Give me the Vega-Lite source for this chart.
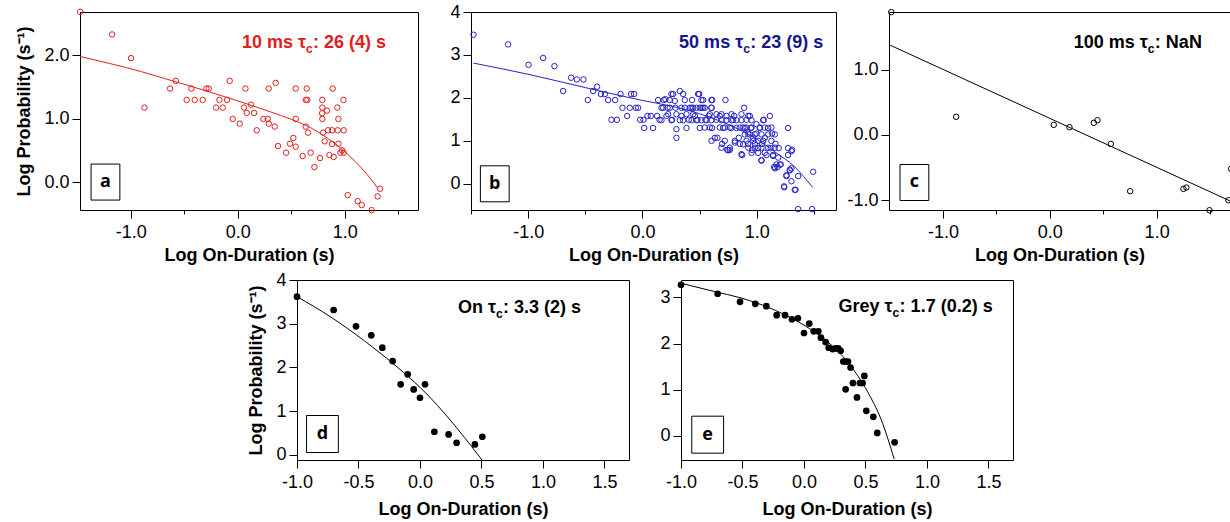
{
"$schema": "https://vega.github.io/schema/vega-lite/v6.json",
"background": "white",
"padding": {"left": 15, "top": 2, "right": 0, "bottom": 0},
"config": {
 "font": "Liberation Sans",
 "view": {"stroke": "#000", "strokeWidth": 1},
 "axis": {"domain": false, "grid": false, "ticks": true, "tickColor": "#000", "tickWidth": 1, "labelFont": "Liberation Sans", "labelFontSize": 18, "labelColor": "#000", "labelFlush": false, "labelOverlap": false, "titleFont": "Liberation Sans", "titleFontSize": 18, "titleFontWeight": "bold", "titleColor": "#000"},
 "axisX": {"labelPadding": 5, "titlePadding": 5},
 "axisY": {"labelPadding": 3, "titlePadding": 10}
},
"datasets": {
 "a_pts": [{"x":-1.473,"y":2.684},{"x":-1.174,"y":2.326},{"x":-0.997,"y":1.953},{"x":-0.872,"y":1.174},{"x":-0.632,"y":1.474},{"x":-0.579,"y":1.595},{"x":-0.477,"y":1.295},{"x":-0.433,"y":1.474},{"x":-0.402,"y":1.295},{"x":-0.327,"y":1.295},{"x":-0.293,"y":1.474},{"x":-0.271,"y":1.474},{"x":-0.202,"y":1.174},{"x":-0.171,"y":1.295},{"x":-0.14,"y":1.174},{"x":-0.1,"y":1.295},{"x":-0.075,"y":1.595},{"x":-0.047,"y":0.995},{"x":0.019,"y":0.921},{"x":0.059,"y":1.174},{"x":0.072,"y":1.474},{"x":0.084,"y":1.089},{"x":0.125,"y":1.221},{"x":0.153,"y":1.089},{"x":0.178,"y":0.816},{"x":0.24,"y":0.995},{"x":0.28,"y":0.995},{"x":0.29,"y":1.474},{"x":0.29,"y":0.921},{"x":0.346,"y":0.874},{"x":0.355,"y":1.563},{"x":0.377,"y":0.568},{"x":0.452,"y":0.463},{"x":0.489,"y":0.605},{"x":0.52,"y":0.695},{"x":0.542,"y":1.474},{"x":0.542,"y":0.995},{"x":0.542,"y":0.558},{"x":0.607,"y":0.411},{"x":0.636,"y":0.874},{"x":0.636,"y":1.295},{"x":0.645,"y":1.474},{"x":0.651,"y":1.295},{"x":0.657,"y":0.779},{"x":0.682,"y":0.463},{"x":0.717,"y":0.237},{"x":0.769,"y":0.379},{"x":0.788,"y":1.084},{"x":0.791,"y":1.295},{"x":0.791,"y":1.174},{"x":0.791,"y":0.995},{"x":0.798,"y":0.779},{"x":0.813,"y":0.642},{"x":0.835,"y":1.126},{"x":0.844,"y":0.816},{"x":0.857,"y":0.426},{"x":0.882,"y":0.816},{"x":0.888,"y":1.474},{"x":0.882,"y":0.6},{"x":0.897,"y":0.395},{"x":0.931,"y":1.174},{"x":0.935,"y":0.816},{"x":0.941,"y":0.995},{"x":0.941,"y":0.605},{"x":0.96,"y":0.463},{"x":0.975,"y":0.5},{"x":0.988,"y":1.295},{"x":0.991,"y":0.816},{"x":0.991,"y":0.463},{"x":1.028,"y":-0.205},{"x":1.121,"y":-0.3},{"x":1.159,"y":-0.363},{"x":1.252,"y":-0.442},{"x":1.308,"y":-0.226},{"x":1.33,"y":-0.105}],
 "a_fit": [{"x":-1.474,"y":1.98},{"x":-1.2,"y":1.87},{"x":-0.9,"y":1.74},{"x":-0.6,"y":1.59},{"x":-0.3,"y":1.44},{"x":0,"y":1.28},{"x":0.3,"y":1.11},{"x":0.5,"y":0.99},{"x":0.7,"y":0.84},{"x":0.85,"y":0.68},{"x":1.0,"y":0.48},{"x":1.1,"y":0.32},{"x":1.2,"y":0.14},{"x":1.31,"y":-0.1}],
 "b_pts": [{"x":-1.478,"y":3.47},{"x":-1.175,"y":3.245},{"x":-0.997,"y":2.77},{"x":-0.869,"y":2.93},{"x":-0.77,"y":2.74},{"x":-0.694,"y":2.16},{"x":-0.624,"y":2.47},{"x":-0.574,"y":2.43},{"x":-0.516,"y":2.43},{"x":-0.478,"y":1.95},{"x":-0.431,"y":2.16},{"x":-0.397,"y":2.26},{"x":-0.364,"y":2.09},{"x":-0.329,"y":2.09},{"x":-0.3,"y":1.95},{"x":-0.271,"y":1.49},{"x":-0.224,"y":1.49},{"x":-0.239,"y":1.95},{"x":-0.192,"y":2.09},{"x":-0.175,"y":1.77},{"x":-0.134,"y":1.58},{"x":-0.111,"y":1.77},{"x":-0.099,"y":2.09},{"x":-0.073,"y":2.09},{"x":-0.058,"y":1.77},{"x":-0.038,"y":1.77},{"x":-0.02,"y":1.49},{"x":0.009,"y":1.49},{"x":0.015,"y":1.3},{"x":0.044,"y":1.58},{"x":0.073,"y":1.58},{"x":0.093,"y":1.3},{"x":0.128,"y":1.58},{"x":0.149,"y":1.49},{"x":0.137,"y":1.95},{"x":0.187,"y":1.95},{"x":0.166,"y":1.77},{"x":0.219,"y":1.77},{"x":0.21,"y":1.58},{"x":0.239,"y":1.95},{"x":0.259,"y":1.49},{"x":0.268,"y":2.09},{"x":0.289,"y":1.77},{"x":0.297,"y":1.07},{"x":0.327,"y":2.16},{"x":0.356,"y":2.09},{"x":0.341,"y":1.58},{"x":0.37,"y":1.95},{"x":0.37,"y":1.77},{"x":0.385,"y":1.3},{"x":0.405,"y":1.49},{"x":0.429,"y":1.77},{"x":0.434,"y":1.95},{"x":0.458,"y":1.58},{"x":0.481,"y":1.49},{"x":0.496,"y":2.09},{"x":0.501,"y":1.3},{"x":0.516,"y":1.77},{"x":0.531,"y":1.95},{"x":0.545,"y":1.77},{"x":0.551,"y":1.49},{"x":0.58,"y":1.58},{"x":0.603,"y":1.95},{"x":0.603,"y":1.77},{"x":0.609,"y":1.3},{"x":0.633,"y":1.07},{"x":0.647,"y":1.49},{"x":0.656,"y":1.07},{"x":0.676,"y":1.58},{"x":0.697,"y":0.93},{"x":0.706,"y":1.3},{"x":0.726,"y":1.95},{"x":0.735,"y":1.58},{"x":0.741,"y":0.79},{"x":0.764,"y":0.79},{"x":0.778,"y":1.3},{"x":0.793,"y":1.49},{"x":0.802,"y":1.58},{"x":0.808,"y":1.0},{"x":0.822,"y":1.3},{"x":0.843,"y":1.07},{"x":0.851,"y":0.93},{"x":0.872,"y":0.67},{"x":0.889,"y":1.77},{"x":0.895,"y":1.3},{"x":0.91,"y":1.49},{"x":0.924,"y":0.93},{"x":0.924,"y":1.17},{"x":0.939,"y":1.58},{"x":0.948,"y":1.3},{"x":0.959,"y":0.79},{"x":0.968,"y":1.07},{"x":0.983,"y":0.93},{"x":0.997,"y":1.17},{"x":1.012,"y":0.83},{"x":1.026,"y":1.3},{"x":1.041,"y":0.54},{"x":1.047,"y":0.93},{"x":1.061,"y":1.49},{"x":1.07,"y":1.07},{"x":1.085,"y":0.67},{"x":1.099,"y":1.3},{"x":1.114,"y":1.58},{"x":1.122,"y":0.83},{"x":1.134,"y":1.17},{"x":1.143,"y":0.67},{"x":1.152,"y":0.39},{"x":1.163,"y":0.93},{"x":1.181,"y":0.39},{"x":1.192,"y":0.83},{"x":1.201,"y":0.45},{"x":1.21,"y":0.45},{"x":1.239,"y":-0.06},{"x":1.274,"y":1.3},{"x":1.274,"y":0.83},{"x":1.274,"y":0.67},{"x":1.259,"y":0.2},{"x":1.289,"y":0.33},{"x":1.303,"y":0.06},{"x":1.309,"y":0.79},{"x":1.332,"y":-0.14},{"x":1.362,"y":0.18},{"x":1.362,"y":-0.59},{"x":1.484,"y":-0.59},{"x":1.493,"y":0.28},{"x":0.254,"y":2.09},{"x":0.487,"y":2.09},{"x":0.201,"y":1.97},{"x":0.283,"y":1.93},{"x":0.516,"y":1.95},{"x":0.61,"y":1.95},{"x":0.181,"y":1.77},{"x":0.239,"y":1.77},{"x":0.341,"y":1.77},{"x":0.414,"y":1.77},{"x":0.443,"y":1.77},{"x":0.472,"y":1.77},{"x":0.501,"y":1.77},{"x":0.53,"y":1.77},{"x":0.604,"y":1.77},{"x":0.225,"y":1.62},{"x":0.297,"y":1.62},{"x":0.385,"y":1.62},{"x":0.443,"y":1.62},{"x":0.589,"y":1.62},{"x":0.647,"y":1.62},{"x":0.691,"y":1.62},{"x":0.779,"y":1.62},{"x":0.866,"y":1.62},{"x":0.166,"y":1.48},{"x":0.254,"y":1.48},{"x":0.327,"y":1.48},{"x":0.356,"y":1.48},{"x":0.429,"y":1.48},{"x":0.472,"y":1.48},{"x":0.516,"y":1.48},{"x":0.56,"y":1.48},{"x":0.604,"y":1.48},{"x":0.691,"y":1.48},{"x":0.735,"y":1.48},{"x":0.779,"y":1.48},{"x":0.822,"y":1.48},{"x":0.866,"y":1.48},{"x":0.954,"y":1.48},{"x":0.297,"y":1.27},{"x":0.545,"y":1.31},{"x":0.589,"y":1.31},{"x":0.676,"y":1.31},{"x":0.72,"y":1.31},{"x":0.764,"y":1.31},{"x":0.851,"y":1.31},{"x":0.604,"y":1.0},{"x":0.72,"y":1.0},{"x":0.808,"y":0.96},{"x":0.75,"y":0.78},{"x":0.866,"y":0.69},{"x":0.691,"y":0.84},{"x":0.764,"y":0.84},{"x":0.925,"y":1.58},{"x":1.056,"y":1.48},{"x":0.997,"y":1.39},{"x":0.881,"y":1.31},{"x":0.91,"y":1.31},{"x":0.954,"y":1.31},{"x":1.027,"y":1.31},{"x":1.07,"y":1.31},{"x":1.128,"y":1.31},{"x":0.895,"y":1.15},{"x":0.939,"y":1.15},{"x":0.983,"y":1.15},{"x":1.041,"y":1.15},{"x":1.099,"y":1.15},{"x":1.158,"y":1.15},{"x":0.91,"y":1.0},{"x":0.969,"y":1.0},{"x":1.012,"y":1.0},{"x":1.056,"y":1.0},{"x":1.128,"y":1.0},{"x":0.881,"y":0.92},{"x":0.925,"y":0.84},{"x":0.983,"y":0.84},{"x":1.041,"y":0.84},{"x":1.099,"y":0.84},{"x":1.158,"y":0.84},{"x":1.303,"y":0.76},{"x":0.954,"y":0.72},{"x":1.012,"y":0.72},{"x":1.07,"y":0.72},{"x":1.041,"y":0.55},{"x":1.143,"y":0.65},{"x":1.187,"y":0.61},{"x":1.172,"y":0.45},{"x":1.158,"y":0.36},{"x":1.289,"y":0.31},{"x":1.303,"y":0.36},{"x":1.26,"y":0.18},{"x":1.24,"y":-0.08},{"x":1.339,"y":-0.14}],
 "b_fit": [{"x":-1.478,"y":2.81},{"x":-1.0,"y":2.55},{"x":-0.5,"y":2.24},{"x":0,"y":1.94},{"x":0.25,"y":1.81},{"x":0.5,"y":1.63},{"x":0.75,"y":1.38},{"x":1.0,"y":1.04},{"x":1.16,"y":0.74},{"x":1.33,"y":0.4},{"x":1.49,"y":-0.09}],
 "c_pts": [{"x":-1.485,"y":1.878},{"x":-0.877,"y":0.276},{"x":0.037,"y":0.153},{"x":0.184,"y":0.117},{"x":0.412,"y":0.184},{"x":0.446,"y":0.224},{"x":0.571,"y":-0.138},{"x":0.752,"y":-0.862},{"x":1.251,"y":-0.827},{"x":1.279,"y":-0.806},{"x":1.495,"y":-1.153},{"x":1.672,"y":-1.0},{"x":1.697,"y":-0.52}],
 "c_fit": [{"x":-1.506,"y":1.38},{"x":1.69,"y":-1.013}],
 "d_pts": [{"x":-1.0,"y":3.618},{"x":-0.702,"y":3.313},{"x":-0.52,"y":2.939},{"x":-0.396,"y":2.733},{"x":-0.306,"y":2.45},{"x":-0.222,"y":2.145},{"x":-0.157,"y":1.611},{"x":-0.1,"y":1.84},{"x":-0.051,"y":1.496},{"x":0.0,"y":1.305},{"x":0.041,"y":1.611},{"x":0.117,"y":0.527},{"x":0.233,"y":0.466},{"x":0.298,"y":0.275},{"x":0.447,"y":0.237},{"x":0.507,"y":0.412}],
 "d_fit": [{"x":-1.0,"y":3.62},{"x":-0.724,"y":3.15},{"x":-0.453,"y":2.61},{"x":-0.182,"y":2.0},{"x":0.0,"y":1.545},{"x":0.144,"y":1.125},{"x":0.306,"y":0.59},{"x":0.415,"y":0.207},{"x":0.505,"y":-0.12}],
 "e_pts": [{"x":-1.0,"y":3.277},{"x":-0.702,"y":3.081},{"x":-0.52,"y":2.906},{"x":-0.396,"y":2.862},{"x":-0.306,"y":2.811},{"x":-0.222,"y":2.615},{"x":-0.154,"y":2.615},{"x":-0.098,"y":2.527},{"x":-0.049,"y":2.549},{"x":0.0,"y":2.229},{"x":0.043,"y":2.433},{"x":0.079,"y":2.265},{"x":0.117,"y":2.265},{"x":0.138,"y":2.127},{"x":0.176,"y":2.032},{"x":0.201,"y":1.908},{"x":0.233,"y":1.879},{"x":0.257,"y":1.894},{"x":0.279,"y":1.894},{"x":0.298,"y":1.843},{"x":0.32,"y":1.61},{"x":0.339,"y":1.61},{"x":0.358,"y":1.61},{"x":0.379,"y":1.479},{"x":0.339,"y":1.005},{"x":0.398,"y":1.143},{"x":0.431,"y":0.83},{"x":0.455,"y":1.143},{"x":0.477,"y":1.143},{"x":0.491,"y":1.296},{"x":0.507,"y":0.539},{"x":0.564,"y":0.408},{"x":0.596,"y":0.058},{"x":0.737,"y":-0.146}],
 "e_fit": [{"x":-1.0,"y":3.31},{"x":-0.729,"y":3.13},{"x":-0.512,"y":2.99},{"x":-0.241,"y":2.73},{"x":0.0,"y":2.4},{"x":0.192,"y":2.04},{"x":0.355,"y":1.6},{"x":0.518,"y":0.95},{"x":0.626,"y":0.36},{"x":0.734,"y":-0.51}],
 "boxes": [{"panel":"a","x":-1.236,"y":0.0,"letter":"a"},{"panel":"b","x":-1.292,"y":0.0,"letter":"b"},{"panel":"c","x":-1.268,"y":-0.729,"letter":"c"},{"panel":"d","x":-0.793,"y":0.475,"letter":"d"},{"panel":"e","x":-0.783,"y":0.02,"letter":"e"}],
 "ann": [{"panel":"a","x":0.638,"y":2.12,"pre":"10 ms τ","post":": 26 (4) s"},{"panel":"b","x":0.881,"y":3.17,"pre":"50 ms τ","post":": 23 (9) s"},{"panel":"c","x":0.918,"y":1.323,"pre":"100 ms τ","post":": NaN"},{"panel":"d","x":0.618,"y":3.25,"pre":"On τ","post":": 3.3 (2) s"},{"panel":"e","x":0.721,"y":2.68,"pre":"Grey τ","post":": 1.7 (0.2) s"}]
},
"spacing": 5,
"vconcat": [
 {"hconcat": [
  {"width": 338, "height": 198, "layer": [
   {"data": {"name": "a_pts"}, "mark": {"type": "point", "filled": false, "color": "#e0201c", "size": 30, "strokeWidth": 1, "opacity": 1},
    "encoding": {
     "x": {"field": "x", "type": "quantitative", "scale": {"domain": [-1.474, 1.685], "nice": false, "zero": false},
       "axis": {"title": "Log On-Duration (s)", "values": [-1, -0.5, 0, 0.5, 1, 1.5], "labelExpr": "abs(datum.value - round(datum.value)) > 0.01 ? '' : (datum.value < 0 ? '-' : '') + format(abs(datum.value), '.1f')", "tickSize": {"condition": {"test": "abs(datum.value - round(datum.value)) > 0.01", "value": 4}, "value": 8}}},
     "y": {"field": "y", "type": "quantitative", "scale": {"domain": [-0.44, 2.68], "nice": false, "zero": false},
       "axis": {"title": "Log Probability (s⁻¹)", "values": [0, 0.5, 1, 1.5, 2, 2.5], "labelExpr": "abs(datum.value - round(datum.value)) > 0.01 ? '' : (datum.value < 0 ? '-' : '') + format(abs(datum.value), '.1f')", "tickSize": {"condition": {"test": "abs(datum.value - round(datum.value)) > 0.01", "value": 4}, "value": 8}}}
    }},
   {"data": {"name": "a_fit"}, "mark": {"type": "line", "color": "#e0201c", "strokeWidth": 1, "interpolate": "monotone"}, "encoding": {"x": {"field": "x", "type": "quantitative"}, "y": {"field": "y", "type": "quantitative"}}},
   {"data": {"name": "boxes"}, "transform": [{"filter": "datum.panel == 'a'"}], "mark": {"type": "point", "shape": "M-0.8,-1H0.8V1H-0.8Z", "size": 1296, "filled": true, "fill": "white", "stroke": "#000", "strokeWidth": 1, "opacity": 1}, "encoding": {"x": {"field": "x", "type": "quantitative"}, "y": {"field": "y", "type": "quantitative"}}},
   {"data": {"name": "boxes"}, "transform": [{"filter": "datum.panel == 'a'"}], "mark": {"type": "text", "font": "Open Sans", "fontWeight": "bold", "fontSize": 18, "align": "center", "baseline": "middle", "color": "#000"}, "encoding": {"x": {"field": "x", "type": "quantitative"}, "y": {"field": "y", "type": "quantitative"}, "text": {"field": "letter"}}},
   {"data": {"name": "ann"}, "transform": [{"filter": "datum.panel == 'a'"}], "mark": {"type": "text", "fontWeight": "bold", "fontSize": 18, "align": "right", "baseline": "alphabetic", "color": "#e0201c"}, "encoding": {"x": {"field": "x", "type": "quantitative"}, "y": {"field": "y", "type": "quantitative"}, "text": {"field": "pre"}}},
   {"data": {"name": "ann"}, "transform": [{"filter": "datum.panel == 'a'"}], "mark": {"type": "text", "fontWeight": "bold", "fontSize": 12, "align": "left", "baseline": "alphabetic", "dy": 5, "color": "#e0201c"}, "encoding": {"x": {"field": "x", "type": "quantitative"}, "y": {"field": "y", "type": "quantitative"}, "text": {"value": "c"}}},
   {"data": {"name": "ann"}, "transform": [{"filter": "datum.panel == 'a'"}], "mark": {"type": "text", "fontWeight": "bold", "fontSize": 18, "align": "left", "baseline": "alphabetic", "dx": 7, "color": "#e0201c"}, "encoding": {"x": {"field": "x", "type": "quantitative"}, "y": {"field": "y", "type": "quantitative"}, "text": {"field": "post"}}}
  ]},
  {"width": 365, "height": 198, "layer": [
   {"data": {"name": "b_pts"}, "mark": {"type": "point", "filled": false, "color": "#2222c8", "size": 30, "strokeWidth": 1, "opacity": 1},
    "encoding": {
     "x": {"field": "x", "type": "quantitative", "scale": {"domain": [-1.5, 1.693], "nice": false, "zero": false},
       "axis": {"title": "Log On-Duration (s)", "values": [-1.5, -1, -0.5, 0, 0.5, 1, 1.5], "labelExpr": "abs(datum.value - round(datum.value)) > 0.01 ? '' : (datum.value < 0 ? '-' : '') + format(abs(datum.value), '.1f')", "tickSize": {"condition": {"test": "abs(datum.value - round(datum.value)) > 0.01", "value": 4}, "value": 8}}},
     "y": {"field": "y", "type": "quantitative", "scale": {"domain": [-0.61, 4.0], "nice": false, "zero": false},
       "axis": {"title": null, "values": [0, 1, 2, 3, 4], "format": "d", "tickSize": 8}}
    }},
   {"data": {"name": "b_fit"}, "mark": {"type": "line", "color": "#2222c8", "strokeWidth": 1, "interpolate": "monotone"}, "encoding": {"x": {"field": "x", "type": "quantitative"}, "y": {"field": "y", "type": "quantitative"}}},
   {"data": {"name": "boxes"}, "transform": [{"filter": "datum.panel == 'b'"}], "mark": {"type": "point", "shape": "M-0.8,-1H0.8V1H-0.8Z", "size": 1296, "filled": true, "fill": "white", "stroke": "#000", "strokeWidth": 1, "opacity": 1}, "encoding": {"x": {"field": "x", "type": "quantitative"}, "y": {"field": "y", "type": "quantitative"}}},
   {"data": {"name": "boxes"}, "transform": [{"filter": "datum.panel == 'b'"}], "mark": {"type": "text", "font": "Open Sans", "fontWeight": "bold", "fontSize": 18, "align": "center", "baseline": "middle", "color": "#000"}, "encoding": {"x": {"field": "x", "type": "quantitative"}, "y": {"field": "y", "type": "quantitative"}, "text": {"field": "letter"}}},
   {"data": {"name": "ann"}, "transform": [{"filter": "datum.panel == 'b'"}], "mark": {"type": "text", "fontWeight": "bold", "fontSize": 18, "align": "right", "baseline": "alphabetic", "color": "#14148c"}, "encoding": {"x": {"field": "x", "type": "quantitative"}, "y": {"field": "y", "type": "quantitative"}, "text": {"field": "pre"}}},
   {"data": {"name": "ann"}, "transform": [{"filter": "datum.panel == 'b'"}], "mark": {"type": "text", "fontWeight": "bold", "fontSize": 12, "align": "left", "baseline": "alphabetic", "dy": 5, "color": "#14148c"}, "encoding": {"x": {"field": "x", "type": "quantitative"}, "y": {"field": "y", "type": "quantitative"}, "text": {"value": "c"}}},
   {"data": {"name": "ann"}, "transform": [{"filter": "datum.panel == 'b'"}], "mark": {"type": "text", "fontWeight": "bold", "fontSize": 18, "align": "left", "baseline": "alphabetic", "dx": 7, "color": "#14148c"}, "encoding": {"x": {"field": "x", "type": "quantitative"}, "y": {"field": "y", "type": "quantitative"}, "text": {"field": "post"}}}
  ]},
  {"width": 341, "height": 198, "layer": [
   {"data": {"name": "c_pts"}, "transform": [{"filter": "datum.x < 1.68"}], "mark": {"type": "point", "filled": false, "color": "#000", "size": 30, "strokeWidth": 1, "opacity": 1},
    "encoding": {
     "x": {"field": "x", "type": "quantitative", "scale": {"domain": [-1.506, 1.687], "nice": false, "zero": false},
       "axis": {"title": "Log On-Duration (s)", "values": [-1, -0.5, 0, 0.5, 1, 1.5], "labelExpr": "abs(datum.value - round(datum.value)) > 0.01 ? '' : (datum.value < 0 ? '-' : '') + format(abs(datum.value), '.1f')", "tickSize": {"condition": {"test": "abs(datum.value - round(datum.value)) > 0.01", "value": 4}, "value": 8}}},
     "y": {"field": "y", "type": "quantitative", "scale": {"domain": [-1.15, 1.88], "nice": false, "zero": false},
       "axis": {"title": null, "values": [-1, -0.5, 0, 0.5, 1, 1.5], "labelExpr": "abs(datum.value - round(datum.value)) > 0.01 ? '' : (datum.value < 0 ? '-' : '') + format(abs(datum.value), '.1f')", "tickSize": {"condition": {"test": "abs(datum.value - round(datum.value)) > 0.01", "value": 4}, "value": 8}}}
    }},
   {"data": {"name": "c_pts"}, "transform": [{"filter": "datum.x >= 1.68"}], "mark": {"type": "point", "filled": false, "color": "#000", "size": 30, "strokeWidth": 1, "opacity": 1, "clip": true}, "encoding": {"x": {"field": "x", "type": "quantitative"}, "y": {"field": "y", "type": "quantitative"}}},
   {"data": {"name": "c_fit"}, "mark": {"type": "line", "color": "#000", "strokeWidth": 1}, "encoding": {"x": {"field": "x", "type": "quantitative"}, "y": {"field": "y", "type": "quantitative"}}},
   {"data": {"name": "boxes"}, "transform": [{"filter": "datum.panel == 'c'"}], "mark": {"type": "point", "shape": "M-0.8,-1H0.8V1H-0.8Z", "size": 1296, "filled": true, "fill": "white", "stroke": "#000", "strokeWidth": 1, "opacity": 1}, "encoding": {"x": {"field": "x", "type": "quantitative"}, "y": {"field": "y", "type": "quantitative"}}},
   {"data": {"name": "boxes"}, "transform": [{"filter": "datum.panel == 'c'"}], "mark": {"type": "text", "font": "Open Sans", "fontWeight": "bold", "fontSize": 18, "align": "center", "baseline": "middle", "color": "#000"}, "encoding": {"x": {"field": "x", "type": "quantitative"}, "y": {"field": "y", "type": "quantitative"}, "text": {"field": "letter"}}},
   {"data": {"name": "ann"}, "transform": [{"filter": "datum.panel == 'c'"}], "mark": {"type": "text", "fontWeight": "bold", "fontSize": 18, "align": "right", "baseline": "alphabetic", "color": "#000"}, "encoding": {"x": {"field": "x", "type": "quantitative"}, "y": {"field": "y", "type": "quantitative"}, "text": {"field": "pre"}}},
   {"data": {"name": "ann"}, "transform": [{"filter": "datum.panel == 'c'"}], "mark": {"type": "text", "fontWeight": "bold", "fontSize": 12, "align": "left", "baseline": "alphabetic", "dy": 5, "color": "#000"}, "encoding": {"x": {"field": "x", "type": "quantitative"}, "y": {"field": "y", "type": "quantitative"}, "text": {"value": "c"}}},
   {"data": {"name": "ann"}, "transform": [{"filter": "datum.panel == 'c'"}], "mark": {"type": "text", "fontWeight": "bold", "fontSize": 18, "align": "left", "baseline": "alphabetic", "dx": 7, "color": "#000"}, "encoding": {"x": {"field": "x", "type": "quantitative"}, "y": {"field": "y", "type": "quantitative"}, "text": {"field": "post"}}}
  ]}
 ], "spacing": 53, "bounds": "flush"},
 {"hconcat": [
  {"width": 165, "height": 180, "view": {"stroke": null}, "data": {"values": [{"t": ""}]}, "mark": {"type": "text"}, "encoding": {"text": {"field": "t"}}},
  {"width": 332, "height": 180, "layer": [
   {"data": {"name": "d_pts"}, "mark": {"type": "point", "filled": true, "color": "#000", "size": 45, "opacity": 1},
    "encoding": {
     "x": {"field": "x", "type": "quantitative", "scale": {"domain": [-1.0, 1.7], "nice": false, "zero": false},
       "axis": {"title": "Log On-Duration (s)", "titlePadding": 9, "values": [-1, -0.5, 0, 0.5, 1, 1.5], "labelExpr": "(datum.value < 0 ? '-' : '') + format(abs(datum.value), '.1f')", "tickSize": 8}},
     "y": {"field": "y", "type": "quantitative", "scale": {"domain": [-0.12, 4.0], "nice": false, "zero": false},
       "axis": {"title": "Log Probability (s⁻¹)", "values": [0, 1, 2, 3, 4], "format": "d", "tickSize": 8}}
    }},
   {"data": {"name": "d_fit"}, "mark": {"type": "line", "color": "#000", "strokeWidth": 1, "interpolate": "monotone"}, "encoding": {"x": {"field": "x", "type": "quantitative"}, "y": {"field": "y", "type": "quantitative"}}},
   {"data": {"name": "boxes"}, "transform": [{"filter": "datum.panel == 'd'"}], "mark": {"type": "point", "shape": "M-0.86,-1H0.86V1H-0.86Z", "size": 1369, "filled": true, "fill": "white", "stroke": "#000", "strokeWidth": 1, "opacity": 1}, "encoding": {"x": {"field": "x", "type": "quantitative"}, "y": {"field": "y", "type": "quantitative"}}},
   {"data": {"name": "boxes"}, "transform": [{"filter": "datum.panel == 'd'"}], "mark": {"type": "text", "font": "Open Sans", "fontWeight": "bold", "fontSize": 18, "align": "center", "baseline": "middle", "color": "#000"}, "encoding": {"x": {"field": "x", "type": "quantitative"}, "y": {"field": "y", "type": "quantitative"}, "text": {"field": "letter"}}},
   {"data": {"name": "ann"}, "transform": [{"filter": "datum.panel == 'd'"}], "mark": {"type": "text", "fontWeight": "bold", "fontSize": 18, "align": "right", "baseline": "alphabetic", "color": "#000"}, "encoding": {"x": {"field": "x", "type": "quantitative"}, "y": {"field": "y", "type": "quantitative"}, "text": {"field": "pre"}}},
   {"data": {"name": "ann"}, "transform": [{"filter": "datum.panel == 'd'"}], "mark": {"type": "text", "fontWeight": "bold", "fontSize": 12, "align": "left", "baseline": "alphabetic", "dy": 5, "color": "#000"}, "encoding": {"x": {"field": "x", "type": "quantitative"}, "y": {"field": "y", "type": "quantitative"}, "text": {"value": "c"}}},
   {"data": {"name": "ann"}, "transform": [{"filter": "datum.panel == 'd'"}], "mark": {"type": "text", "fontWeight": "bold", "fontSize": 18, "align": "left", "baseline": "alphabetic", "dx": 7, "color": "#000"}, "encoding": {"x": {"field": "x", "type": "quantitative"}, "y": {"field": "y", "type": "quantitative"}, "text": {"field": "post"}}}
  ]},
  {"width": 332, "height": 180, "layer": [
   {"data": {"name": "e_pts"}, "mark": {"type": "point", "filled": true, "color": "#000", "size": 45, "opacity": 1},
    "encoding": {
     "x": {"field": "x", "type": "quantitative", "scale": {"domain": [-1.0, 1.7], "nice": false, "zero": false},
       "axis": {"title": "Log On-Duration (s)", "titlePadding": 9, "values": [-1, -0.5, 0, 0.5, 1, 1.5], "labelExpr": "(datum.value < 0 ? '-' : '') + format(abs(datum.value), '.1f')", "tickSize": 8}},
     "y": {"field": "y", "type": "quantitative", "scale": {"domain": [-0.53, 3.38], "nice": false, "zero": false},
       "axis": {"title": null, "values": [0, 1, 2, 3], "format": "d", "tickSize": 8}}
    }},
   {"data": {"name": "e_fit"}, "mark": {"type": "line", "color": "#000", "strokeWidth": 1, "interpolate": "monotone"}, "encoding": {"x": {"field": "x", "type": "quantitative"}, "y": {"field": "y", "type": "quantitative"}}},
   {"data": {"name": "boxes"}, "transform": [{"filter": "datum.panel == 'e'"}], "mark": {"type": "point", "shape": "M-0.86,-1H0.86V1H-0.86Z", "size": 1369, "filled": true, "fill": "white", "stroke": "#000", "strokeWidth": 1, "opacity": 1}, "encoding": {"x": {"field": "x", "type": "quantitative"}, "y": {"field": "y", "type": "quantitative"}}},
   {"data": {"name": "boxes"}, "transform": [{"filter": "datum.panel == 'e'"}], "mark": {"type": "text", "font": "Open Sans", "fontWeight": "bold", "fontSize": 18, "align": "center", "baseline": "middle", "color": "#000"}, "encoding": {"x": {"field": "x", "type": "quantitative"}, "y": {"field": "y", "type": "quantitative"}, "text": {"field": "letter"}}},
   {"data": {"name": "ann"}, "transform": [{"filter": "datum.panel == 'e'"}], "mark": {"type": "text", "fontWeight": "bold", "fontSize": 18, "align": "right", "baseline": "alphabetic", "color": "#000"}, "encoding": {"x": {"field": "x", "type": "quantitative"}, "y": {"field": "y", "type": "quantitative"}, "text": {"field": "pre"}}},
   {"data": {"name": "ann"}, "transform": [{"filter": "datum.panel == 'e'"}], "mark": {"type": "text", "fontWeight": "bold", "fontSize": 12, "align": "left", "baseline": "alphabetic", "dy": 5, "color": "#000"}, "encoding": {"x": {"field": "x", "type": "quantitative"}, "y": {"field": "y", "type": "quantitative"}, "text": {"value": "c"}}},
   {"data": {"name": "ann"}, "transform": [{"filter": "datum.panel == 'e'"}], "mark": {"type": "text", "fontWeight": "bold", "fontSize": 18, "align": "left", "baseline": "alphabetic", "dx": 7, "color": "#000"}, "encoding": {"x": {"field": "x", "type": "quantitative"}, "y": {"field": "y", "type": "quantitative"}, "text": {"field": "post"}}}
  ]}
 ], "spacing": 52, "bounds": "flush"}
]
}
